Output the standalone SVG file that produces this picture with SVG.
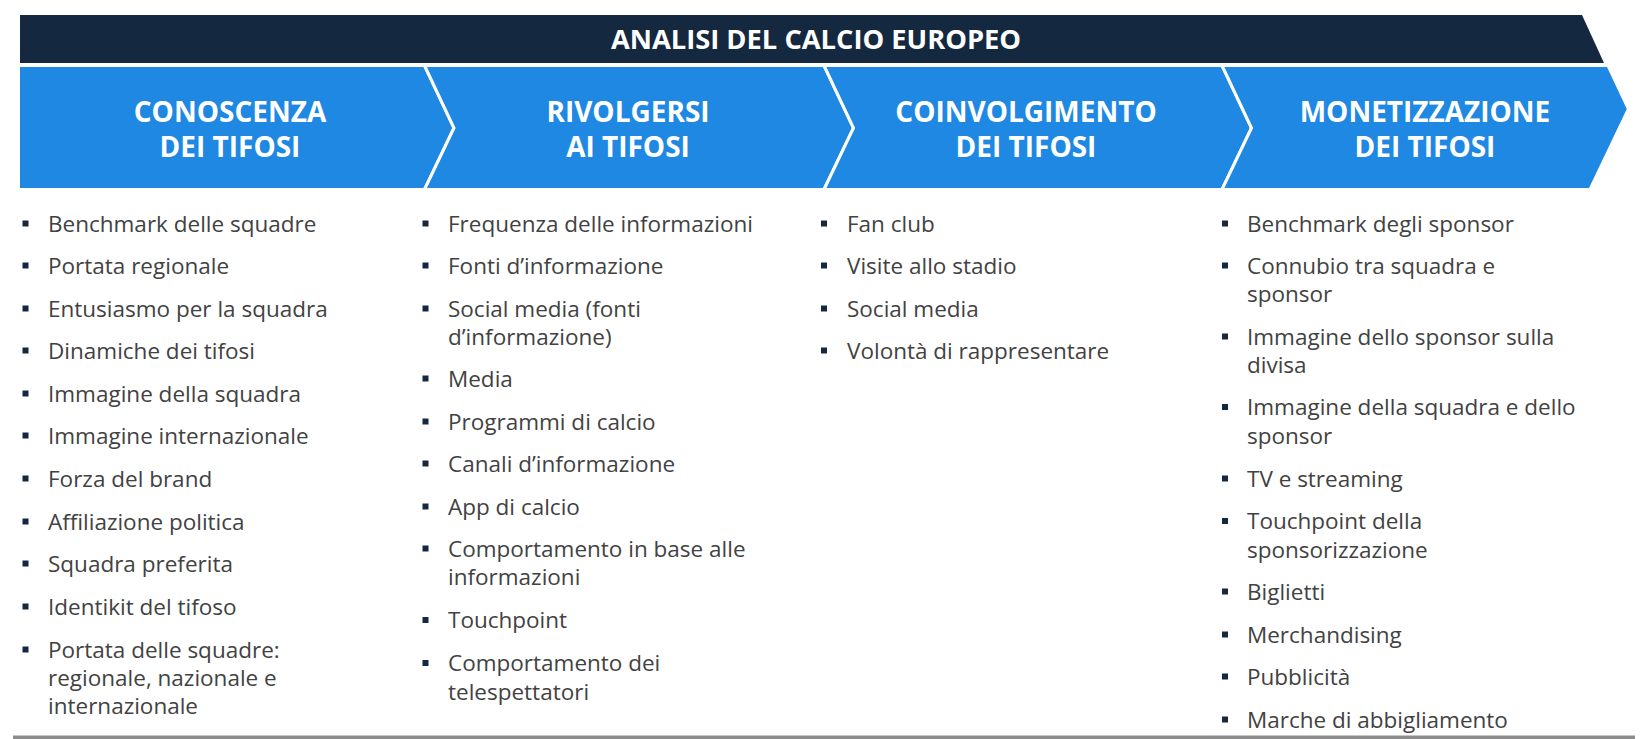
<svg xmlns="http://www.w3.org/2000/svg" width="1645" height="739" viewBox="0 0 1645 739">
<style>
.stage{fill:#1E88E3;stroke:#ffffff;stroke-width:3;stroke-linejoin:miter}
.hdr{font-family:"Open Sans","Liberation Sans",sans-serif;font-weight:700;font-size:28px;fill:#ffffff;text-anchor:middle}
.ttl{font-family:"Open Sans","Liberation Sans",sans-serif;font-weight:700;font-size:27.3px;fill:#ffffff;text-anchor:middle}
.itm{font-family:"Open Sans","Liberation Sans",sans-serif;font-size:22.5px;fill:#424242}
.bul{fill:#14283F}
</style>
<defs>
<rect id="b" class="bul" x="0" y="0" width="6" height="6"/>
</defs>
<rect width="1645" height="739" fill="#ffffff"/>
<g id="banner">
<polygon points="20,15 1582,15 1604,63 20,63" fill="#14283F"/>
<text class="ttl" x="816" y="49">ANALISI DEL CALCIO EUROPEO</text>
</g>
<g id="stage1">
<polygon class="stage" points="18.5,65.5 424.5,65.5 454,128 424.5,189.5 18.5,189.5"/>
<text class="hdr" x="230" y="122">CONOSCENZA</text>
<text class="hdr" x="230" y="157">DEI TIFOSI</text>
</g>
<g id="stage2">
<polygon class="stage" points="424.5,65.5 824,65.5 853.5,128 824,189.5 424.5,189.5 454,128"/>
<text class="hdr" x="628" y="122">RIVOLGERSI</text>
<text class="hdr" x="628" y="157">AI TIFOSI</text>
</g>
<g id="stage3">
<polygon class="stage" points="824,65.5 1222,65.5 1251.5,128 1222,189.5 824,189.5 853.5,128"/>
<text class="hdr" x="1026" y="122">COINVOLGIMENTO</text>
<text class="hdr" x="1026" y="157">DEI TIFOSI</text>
</g>
<g id="stage4">
<polygon class="stage" points="1222,65.5 1608,65.5 1628.5,109 1590,189.5 1222,189.5 1251.5,128"/>
<text class="hdr" x="1425" y="122">MONETIZZAZIONE</text>
<text class="hdr" x="1425" y="157">DEI TIFOSI</text>
</g>
<g id="list1">
<use href="#b" x="22.5" y="220.5"/><text class="itm" x="48" y="231.5">Benchmark delle squadre</text>
<use href="#b" x="22.5" y="262.5"/><text class="itm" x="48" y="273.5">Portata regionale</text>
<use href="#b" x="22.5" y="305.5"/><text class="itm" x="48" y="316.5">Entusiasmo per la squadra</text>
<use href="#b" x="22.5" y="347.5"/><text class="itm" x="48" y="358.5">Dinamiche dei tifosi</text>
<use href="#b" x="22.5" y="390.5"/><text class="itm" x="48" y="401.5">Immagine della squadra</text>
<use href="#b" x="22.5" y="432.5"/><text class="itm" x="48" y="443.5">Immagine internazionale</text>
<use href="#b" x="22.5" y="475.5"/><text class="itm" x="48" y="486.5">Forza del brand</text>
<use href="#b" x="22.5" y="518.5"/><text class="itm" x="48" y="529.5">Affiliazione politica</text>
<use href="#b" x="22.5" y="560.5"/><text class="itm" x="48" y="571.5">Squadra preferita</text>
<use href="#b" x="22.5" y="603.5"/><text class="itm" x="48" y="614.5">Identikit del tifoso</text>
<use href="#b" x="22.5" y="646.5"/><text class="itm" x="48" y="657.5">Portata delle squadre:</text>
<text class="itm" x="48" y="685.5">regionale, nazionale e</text>
<text class="itm" x="48" y="714">internazionale</text>
</g>
<g id="list2">
<use href="#b" x="422.5" y="220.5"/><text class="itm" x="448" y="231.5">Frequenza delle informazioni</text>
<use href="#b" x="422.5" y="262.5"/><text class="itm" x="448" y="273.5">Fonti d’informazione</text>
<use href="#b" x="422.5" y="305.5"/><text class="itm" x="448" y="316.5">Social media (fonti</text>
<text class="itm" x="448" y="344.5">d’informazione)</text>
<use href="#b" x="422.5" y="375.5"/><text class="itm" x="448" y="386.5">Media</text>
<use href="#b" x="422.5" y="418.5"/><text class="itm" x="448" y="429.5">Programmi di calcio</text>
<use href="#b" x="422.5" y="460.5"/><text class="itm" x="448" y="471.5">Canali d’informazione</text>
<use href="#b" x="422.5" y="503.5"/><text class="itm" x="448" y="514.5">App di calcio</text>
<use href="#b" x="422.5" y="545.5"/><text class="itm" x="448" y="556.5">Comportamento in base alle</text>
<text class="itm" x="448" y="585">informazioni</text>
<use href="#b" x="422.5" y="617"/><text class="itm" x="448" y="628">Touchpoint</text>
<use href="#b" x="422.5" y="660"/><text class="itm" x="448" y="671">Comportamento dei</text>
<text class="itm" x="448" y="699.5">telespettatori</text>
</g>
<g id="list3">
<use href="#b" x="821" y="220.5"/><text class="itm" x="847" y="231.5">Fan club</text>
<use href="#b" x="821" y="262.5"/><text class="itm" x="847" y="273.5">Visite allo stadio</text>
<use href="#b" x="821" y="305.5"/><text class="itm" x="847" y="316.5">Social media</text>
<use href="#b" x="821" y="347.5"/><text class="itm" x="847" y="358.5">Volontà di rappresentare</text>
</g>
<g id="list4">
<use href="#b" x="1222" y="220.5"/><text class="itm" x="1247" y="231.5">Benchmark degli sponsor</text>
<use href="#b" x="1222" y="262.5"/><text class="itm" x="1247" y="273.5">Connubio tra squadra e</text>
<text class="itm" x="1247" y="301.5">sponsor</text>
<use href="#b" x="1222" y="333.5"/><text class="itm" x="1247" y="344.5">Immagine dello sponsor sulla</text>
<text class="itm" x="1247" y="373">divisa</text>
<use href="#b" x="1222" y="404"/><text class="itm" x="1247" y="415">Immagine della squadra e dello</text>
<text class="itm" x="1247" y="443.5">sponsor</text>
<use href="#b" x="1222" y="475.5"/><text class="itm" x="1247" y="486.5">TV e streaming</text>
<use href="#b" x="1222" y="518"/><text class="itm" x="1247" y="529">Touchpoint della</text>
<text class="itm" x="1247" y="557.5">sponsorizzazione</text>
<use href="#b" x="1222" y="588.5"/><text class="itm" x="1247" y="599.5">Biglietti</text>
<use href="#b" x="1222" y="631.5"/><text class="itm" x="1247" y="642.5">Merchandising</text>
<use href="#b" x="1222" y="673.5"/><text class="itm" x="1247" y="684.5">Pubblicità</text>
<use href="#b" x="1222" y="716.5"/><text class="itm" x="1247" y="727.5">Marche di abbigliamento</text>
</g>
<g id="connectors"></g>
<rect x="13" y="735.5" width="1622" height="3.5" fill="#8c8c8c"/>
</svg>
